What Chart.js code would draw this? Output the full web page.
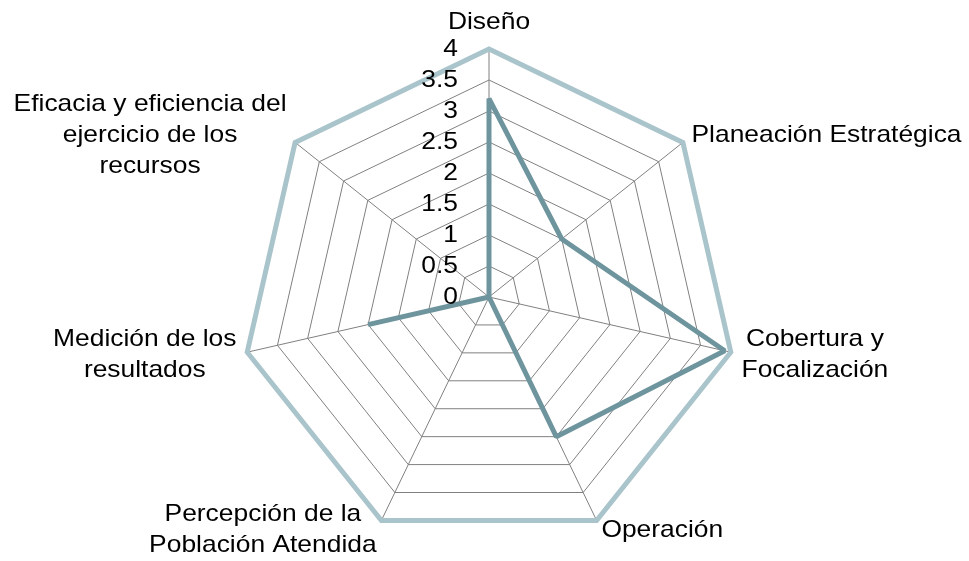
<!DOCTYPE html>
<html>
<head>
<meta charset="utf-8">
<script src="https://cdn.jsdelivr.net/npm/chart.js@4"></script>
<style>
  html, body { margin: 0; padding: 0; background: #ffffff; }
  #wrap { width: 969px; height: 561px; position: relative; }
</style>
</head>
<body>
<div id="wrap"><canvas id="c"></canvas></div>
<script>
// ---- data ----
const categories = [
  ["Diseño"],
  ["Planeación Estratégica"],
  ["Cobertura y", "Focalización"],
  ["Operación"],
  ["Percepción de la", "Población Atendida"],
  ["Medición de los", "resultados"],
  ["Eficacia y eficiencia del", "ejercicio de los", "recursos"]
];
const seriesMax = [4, 4, 4, 4, 4, 4, 4];
const seriesValues = [3.2, 1.5, 3.9, 2.5, 0, 2, 0];
const tickValues = [0, 0.5, 1, 1.5, 2, 2.5, 3, 3.5, 4];
const tickLabels = ["0", "0.5", "1", "1.5", "2", "2.5", "3", "3.5", "4"];

// ---- styles ----
const FONT = '24px "Liberation Sans", Arial, sans-serif';
const SX = 1.1;         // horizontal text stretch
const LINE_H = 31;
const LABEL_PAD = 11;

const labelPlugin = {
  id: 'customLabels',
  afterDraw(chart) {
    const scale = chart.scales.r;
    const ctx = chart.ctx;
    ctx.save();
    ctx.font = FONT;
    ctx.fillStyle = '#000000';
    ctx.textBaseline = 'middle';
    ctx.textAlign = 'center';
    // point labels
    categories.forEach((lines, i) => {
      const p = scale.getPointPosition(i, scale.drawingArea + LABEL_PAD);
      const a = scale.getIndexAngle(i);
      const s = Math.sin(a), c = Math.cos(a);
      const bw = Math.max(...lines.map(t => ctx.measureText(t).width)) * SX;
      const bh = lines.length * LINE_H;
      let left;
      if (Math.abs(s) < 0.05) left = p.x - bw / 2;
      else if (s > 0) left = p.x;
      else left = p.x - bw;
      let top = (c > 0.95) ? p.y - bh : p.y - bh / 2;
      lines.forEach((t, k) => {
        ctx.save();
        ctx.translate(left + bw / 2, top + LINE_H * (k + 0.5));
        ctx.scale(SX, 1);
        ctx.fillText(t, 0, 0);
        ctx.restore();
      });
    });
    // tick labels
    ctx.textAlign = 'right';
    tickValues.forEach((v, k) => {
      const y = scale.yCenter - scale.getDistanceFromCenterForValue(v);
      ctx.save();
      ctx.translate(scale.xCenter - 31, y);
      ctx.scale(SX, 1);
      ctx.fillText(tickLabels[k], 0, 0);
      ctx.restore();
    });
    ctx.restore();
  }
};

new Chart(document.getElementById('c'), {
  type: 'radar',
  data: {
    labels: categories,
    datasets: [
      {
        label: 'Valoración',
        data: seriesValues,
        borderColor: '#6E959E',
        borderWidth: 5,
        borderJoinStyle: 'bevel',
        fill: false,
        pointRadius: 0,
        pointHoverRadius: 0,
        tension: 0
      },
      {
        label: 'Máximo',
        data: seriesMax,
        borderColor: '#A9C4CB',
        borderWidth: 5,
        borderJoinStyle: 'miter',
        fill: false,
        pointRadius: 0,
        pointHoverRadius: 0,
        tension: 0
      }
    ]
  },
  options: {
    responsive: true,
    maintainAspectRatio: false,
    animation: false,
    layout: { padding: { top: 49, bottom: 16, left: 9, right: 0 } },
    plugins: { legend: { display: false }, tooltip: { enabled: false } },
    scales: {
      r: {
        min: 0,
        max: 4,
        beginAtZero: true,
        ticks: { display: false, stepSize: 0.5 },
        pointLabels: { display: false },
        grid: { color: '#808080', lineWidth: 1 },
        angleLines: { display: true, color: '#808080', lineWidth: 1 }
      }
    }
  },
  plugins: [labelPlugin]
});
</script>
</body>
</html>
